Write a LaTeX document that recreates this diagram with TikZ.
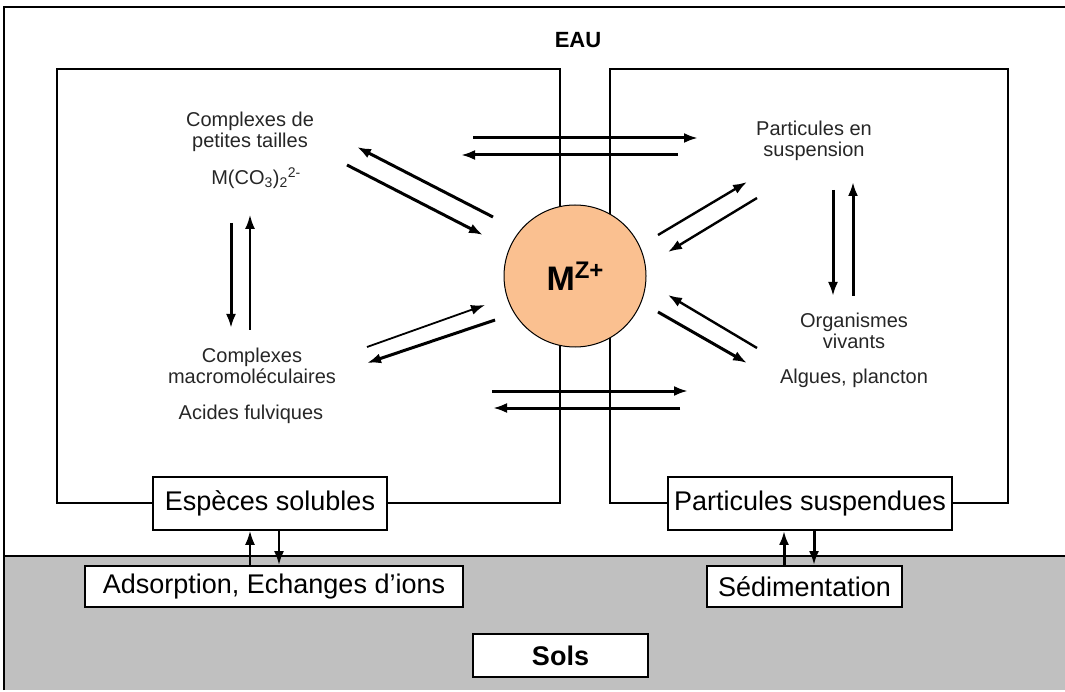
\documentclass[tikz,border=0pt]{standalone}
\usepackage{fontspec}
\setmainfont{Liberation Sans}
\usetikzlibrary{arrows.meta}
\definecolor{orangeclair}{RGB}{250,192,144}
\definecolor{grissol}{RGB}{192,192,192}

\begin{document}
\begin{tikzpicture}[x=1pt, y=-1pt, >={Latex[length=14pt,width=10pt]},
	every node/.style={inner sep=0pt},
	cadre/.style={draw, fill=white, line width=1.8pt, font=\fontsize{27}{27}\selectfont},
	texte/.style={align=center, text=black!85, font=\fontsize{20}{21.5}\selectfont},
	fleche/.style={->, line width=3pt},
	fine/.style={->, line width=1.8pt}]

	\useasboundingbox (0,0) rectangle (1065,692);
	\fill[grissol] (4,556) rectangle (1065,690);
	\draw[line width=1.6pt] (4,690) -- (4,7) -- (1065,7);
	\draw[line width=1.6pt] (4,556) -- (1065,556);
	\draw[line width=1.6pt] (57,69) rectangle (560,503);
	\draw[line width=1.6pt] (610,69) rectangle (1008,503);

	\node[font=\fontsize{22}{22}\selectfont\bfseries] (eau) at (578,40) {EAU};

	\node[texte] (cpt) at (250,132) {Complexes de\\petites tailles};
	\node[texte] (mco) at (256,178) {M(CO\textsubscript{3})\textsubscript{2}\textsuperscript{2-}};
	\node[texte] (cmac) at (252,366) {Complexes\\macromol\'eculaires};
	\node[texte] (acf) at (251,414) {Acides fulviques};
	\node[texte] (pen) at (814,141) {Particules en\\suspension};
	\node[texte] (org) at (854,331) {Organismes\\vivants};
	\node[texte] (alg) at (854,378) {Algues, plancton};

	\node[circle, draw, fill=orangeclair, line width=1pt, minimum size=142pt] (mz) at (575,276)
		{\fontsize{34}{34}\selectfont\bfseries M\raisebox{12pt}{\fontsize{24}{24}\selectfont Z+}};

	\node[cadre, minimum width=234pt, minimum height=53pt] (esp) at (270,503.5) {Esp\`eces solubles};
	\node[cadre, minimum width=284pt, minimum height=53pt] (part) at (810,503.5) {Particules suspendues};
	\node[cadre, minimum width=378pt, minimum height=41pt] (ads) at (274,586.5) {Adsorption, Echanges d'ions};
	\node[cadre, minimum width=195pt, minimum height=41pt] (sed) at (804.5,586.5) {S\'edimentation};
	\node[cadre, minimum width=175pt, minimum height=43pt, font=\fontsize{27}{27}\selectfont\bfseries] (sols) at (560.5,655.5) {Sols};

	% fleches autour de M
	\coordinate (h1) at (473,138); \coordinate (h2) at (698,138);
	\coordinate (h3) at (678,155); \coordinate (h4) at (461,155);
	\coordinate (b1) at (492,391); \coordinate (b2) at (688,391);
	\coordinate (b3) at (680,408); \coordinate (b4) at (493,408);
	\coordinate (hg1) at (493,217); \coordinate (hg2) at (357,147);
	\coordinate (hg3) at (347,165); \coordinate (hg4) at (483,235);
	\coordinate (bg1) at (367,347); \coordinate (bg2) at (485,305);
	\coordinate (bg3) at (495,320); \coordinate (bg4) at (367,363);
	\coordinate (hd1) at (658,235); \coordinate (hd2) at (747,182);
	\coordinate (hd3) at (757,198); \coordinate (hd4) at (668,252);
	\coordinate (bd1) at (757,348); \coordinate (bd2) at (668,295);
	\coordinate (bd3) at (658,312); \coordinate (bd4) at (747,363);
	\coordinate (vg1) at (231,223); \coordinate (vg2) at (231,328);
	\coordinate (vg3) at (250,330); \coordinate (vg4) at (250,215);
	\coordinate (vd1) at (833,190); \coordinate (vd2) at (833,296);
	\coordinate (vd3) at (853,296); \coordinate (vd4) at (853,182);

	\draw[fleche] (h1) -- (h2);
	\draw[fleche] (h3) -- (h4);
	\draw[fleche] (b1) -- (b2);
	\draw[fleche] (b3) -- (b4);
	\draw[fleche] (hg1) -- (hg2);
	\draw[fleche] (hg3) -- (hg4);
	\draw[fine] (bg1) -- (bg2);
	\draw[fleche] (bg3) -- (bg4);
	\draw[fleche, line width=2.4pt] (hd1) -- (hd2);
	\draw[fleche, line width=2.4pt] (hd3) -- (hd4);
	\draw[fleche, line width=2.4pt] (bd1) -- (bd2);
	\draw[fleche] (bd3) -- (bd4);
	\draw[fleche] (vg1) -- (vg2);
	\draw[fine] (vg3) -- (vg4);
	\draw[fleche] (vd1) -- (vd2);
	\draw[fleche] (vd3) -- (vd4);

	% echanges avec les sols
	\draw[fine] ([xshift=-24pt]ads.north) -- ([xshift=-20pt]esp.south);
	\draw[fleche, line width=2.4pt] ([xshift=9pt]esp.south) -- ([xshift=5pt]ads.north);
	\draw[fleche] ([xshift=-20.5pt]sed.north) -- ([xshift=-26pt]part.south);
	\draw[fleche] ([xshift=4pt]part.south) -- ([xshift=9.5pt]sed.north);
\end{tikzpicture}
\end{document}
